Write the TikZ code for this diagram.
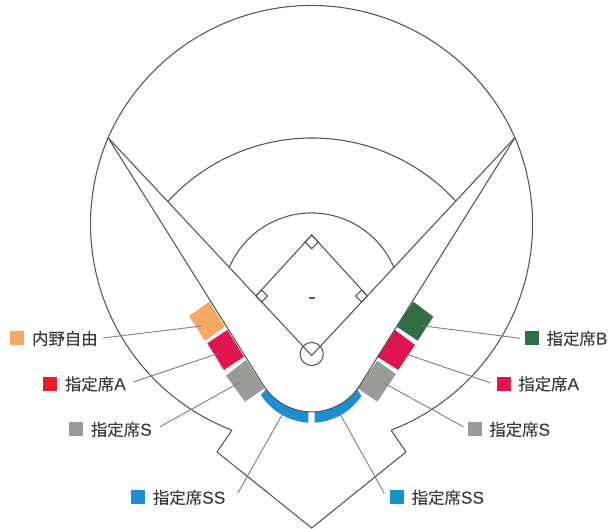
\documentclass[tikz,border=0pt]{standalone}
\usepackage{fontspec}
\usetikzlibrary{calc}
\newfontfamily\jpfont[FakeBold=0.25]{Noto Sans CJK JP}
\newfontfamily\latfont[FakeBold=0.15]{Liberation Sans}
\newcommand{\lat}[1]{{\latfont\fontsize{13}{13}\selectfont #1}}
\definecolor{inkline}{HTML}{555555}
\definecolor{leadline}{HTML}{808080}
\definecolor{textink}{HTML}{3C3C3C}
\definecolor{seatorange}{HTML}{F5A962}
\definecolor{seatred}{HTML}{E0144F}
\definecolor{swatchred}{HTML}{EC1C2C}
\definecolor{seatgray}{HTML}{9A9A96}
\definecolor{seatblue}{HTML}{1A8FD2}
\definecolor{seatgreen}{HTML}{2E6F43}
\tikzset{
  field/.style={draw=inkline,line width=0.8pt,line join=miter},
  leader/.style={draw=leadline,line width=0.7pt},
  swatch/.style={minimum width=10.5pt,minimum height=10.5pt,inner sep=0pt,outer sep=0pt,anchor=center},
  seatlabel/.style={anchor=west,inner sep=0pt,outer sep=0pt,text=textink,font=\jpfont\fontsize{12.3}{12.3}\selectfont}
}
\begin{document}
\begin{tikzpicture}[x=0.75pt,y=-0.75pt]
\useasboundingbox (0,0) rectangle (610,528);
% seats
\fill[seatorange] (189,316) -- (209.3,301.7) -- (225,326.7) -- (205,340.7) -- cycle;
\fill[seatred] (207.3,343.3) -- (227.3,330) -- (244,356.7) -- (224,370) -- cycle;
\fill[seatgray] (226,375.7) -- (246,360) -- (264.3,388.3) -- (245,401.7) -- cycle;
\fill[seatgreen] (396.7,326.7) -- (413.3,301.7) -- (433.3,316.7) -- (417.7,340.7) -- cycle;
\fill[seatred] (377.3,356.7) -- (395,330) -- (415,345) -- (398.3,370) -- cycle;
\fill[seatgray] (357.7,388.3) -- (377.3,360.7) -- (396,374) -- (377.3,401.7) -- cycle;
\coordinate (hc) at (311.5,355);
\coordinate (hd) at (311.5,362.8);
\fill[seatblue] (hc) ++(143:57) arc[start angle=143,end angle=93.2,radius=57]
  -- ($(hd)+(93.1:59.9)$) arc[start angle=93.1,end angle=147.5,radius=59.9] -- cycle;
\fill[seatblue] (hc) ++(37:57) arc[start angle=37,end angle=86.8,radius=57]
  -- ($(hd)+(86.9:59.9)$) arc[start angle=86.9,end angle=33.5,radius=59.9] -- cycle;
% outer wall
\coordinate (cornerL) at (231.9,430.2);
\coordinate (cornerLb) at (217,452);
\coordinate (apex) at (311.7,528);
\coordinate (cornerRb) at (406,452);
\coordinate (cornerR) at (391.1,430.2);
\coordinate (foulL) at (108.1,137.7);
\coordinate (foulR) at (514.9,137.7);
\draw[field] (cornerR) arc[start angle=68.9,end angle=-23,radius=221]
  -- (foulR) arc[start angle=-23.96,end angle=-156.04,radius=222.6]
  -- (foulL) arc[start angle=-157,end angle=-248.9,radius=221]
  -- (cornerL) -- (cornerLb) -- (apex) -- (cornerRb) -- (cornerR);
% foul lines and U-shaped track
\coordinate (home) at (311.7,355.5);
\coordinate (b3) at (256,296);
\coordinate (b2) at (311.7,235);
\coordinate (b1) at (367.4,296);
\draw[field] (foulL) -- (home) -- (foulR);
\draw[field] (foulL) -- (263.4,385.3) arc[start angle=147.8,end angle=32.2,radius=57] -- (foulR);
\draw[field] (b3) -- (b2) -- (b1);
% arcs
\coordinate (outL) at (168.3,201);
\coordinate (inL) at (229,268);
\draw[field] (outL) arc[start angle=-137.35,end angle=-42.65,radius=195.4];
\draw[field] (inL) arc[start angle=-157.4,end angle=-22.6,radius=89.4];
% bases
\draw[field] (b2) -- ++(6.7,7) -- ++(-6.7,6.7) -- ++(-6.7,-6.7) -- cycle;
\draw[field] (b3) -- ++(5.7,-6) -- ++(6,6) -- ++(-6,6) -- cycle;
\draw[field] (b1) -- ++(-5.7,-6) -- ++(-6,6) -- ++(6,6) -- cycle;
\draw[inkline,line width=1.5pt] (308.7,298) -- (314.7,298);
\draw[field] (311.7,354) circle[radius=11.6];
% legend
\node[swatch,fill=seatorange] (sw1) at (17,338) {};
\node[seatlabel] (lb1) at (32,338.5) {内野自由};
\node[swatch,fill=swatchred] (sw2) at (49.7,383.7) {};
\node[seatlabel] (lb2) at (65,384) {指定席\lat{A}};
\node[swatch,fill=seatgray] (sw3) at (76,429.3) {};
\node[seatlabel] (lb3) at (91,429.5) {指定席\lat{S}};
\node[swatch,fill=seatblue] (sw4) at (138,497.3) {};
\node[seatlabel] (lb4) at (153,497.5) {指定席\lat{SS}};
\node[swatch,fill=seatblue] (sw5) at (396.8,497.3) {};
\node[seatlabel] (lb5) at (411.7,497.5) {指定席\lat{SS}};
\node[swatch,fill=seatgray] (sw6) at (474.5,429.3) {};
\node[seatlabel] (lb6) at (489.3,429.5) {指定席\lat{S}};
\node[swatch,fill=seatred] (sw7) at (503.5,383.7) {};
\node[seatlabel] (lb7) at (518.3,384) {指定席\lat{A}};
\node[swatch,fill=seatgreen] (sw8) at (531.7,338) {};
\node[seatlabel] (lb8) at (546.7,338.5) {指定席\lat{B}};
% leaders
\coordinate (s1) at (201.7,326); \coordinate (e1) at (103,338);
\coordinate (s2) at (216.7,354); \coordinate (e2) at (133.3,382);
\coordinate (s3) at (239.3,382.7); \coordinate (e3) at (160,426.7);
\coordinate (s4) at (283,413.3); \coordinate (e4) at (237.7,493.3);
\coordinate (s5) at (339.5,413); \coordinate (e5) at (384.3,493.3);
\coordinate (s6) at (383.3,382.7); \coordinate (e6) at (463.3,426.7);
\coordinate (s7) at (406.7,354.3); \coordinate (e7) at (490,382.7);
\coordinate (s8) at (421.7,325.7); \coordinate (e8) at (520,338.3);
\foreach \i in {1,...,8}{\draw[leader] (s\i) -- (e\i);}
\end{tikzpicture}
\end{document}
